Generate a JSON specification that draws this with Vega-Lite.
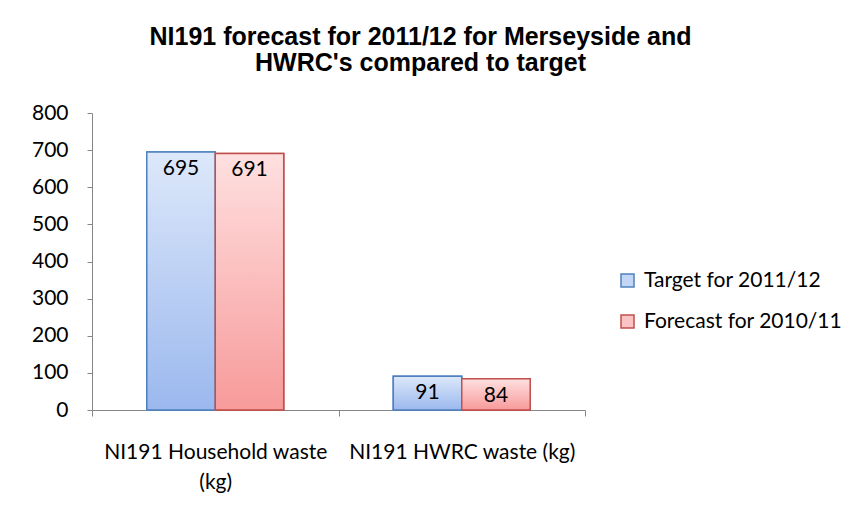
{
  "$schema": "https://vega.github.io/schema/vega-lite/v6.json",
  "width": 493,
  "height": 297,
  "autosize": {"type": "none"},
  "padding": {"left": 92, "top": 113, "right": 265, "bottom": 102},
  "background": "white",
  "title": {
    "text": ["NI191 forecast for 2011/12 for Merseyside and", "HWRC's compared to target"],
    "font": "Liberation Sans",
    "fontSize": 25,
    "fontWeight": "bold",
    "color": "#000000",
    "anchor": "middle",
    "dx": 82,
    "offset": 26,
    "lineHeight": 26
  },
  "config": {
    "view": {"stroke": null},
    "axis": {"labelFont": "Lato", "labelFontSize": 21, "labelColor": "#000000", "domainColor": "#868686", "tickColor": "#868686", "grid": false, "title": null},
    "legend": {"labelFont": "Lato", "labelFontSize": 21, "labelColor": "#000000"}
  },
  "data": {
    "values": [
      {"category": "NI191 Household waste (kg)", "series": "Target for 2011/12", "value": 695},
      {"category": "NI191 Household waste (kg)", "series": "Forecast for 2010/11", "value": 691},
      {"category": "NI191 HWRC waste (kg)", "series": "Target for 2011/12", "value": 91},
      {"category": "NI191 HWRC waste (kg)", "series": "Forecast for 2010/11", "value": 84}
    ]
  },
  "encoding": {
    "x": {
      "field": "category", "type": "nominal", "sort": null,
      "scale": {"paddingInner": 0, "paddingOuter": 0},
      "axis": {"labelAngle": 0, "tickBand": "extent", "tickSize": 6, "labelPadding": 25, "labelLimit": 400,
        "labelExpr": "datum.label == 'NI191 Household waste (kg)' ? ['NI191 Household waste', '(kg)'] : datum.label",
        "labelLineHeight": 30}
    },
    "xOffset": {"field": "series", "type": "nominal", "sort": ["Target for 2011/12", "Forecast for 2010/11"],
      "scale": {"domain": ["Target for 2011/12", "Forecast for 2010/11"], "paddingInner": 0, "paddingOuter": 0.8}},
    "y": {
      "field": "value", "type": "quantitative",
      "scale": {"domain": [0, 800]},
      "axis": {"values": [0, 100, 200, 300, 400, 500, 600, 700, 800], "tickSize": 5, "labelPadding": 19}
    }
  },
  "layer": [
    {
      "mark": {"type": "bar", "strokeWidth": 1.5},
      "encoding": {
        "fill": {
          "field": "series", "type": "nominal",
          "scale": {"domain": ["Target for 2011/12", "Forecast for 2010/11"], "range": ["#C3D6F6", "#FBC3C3"]},
          "legend": {"title": null, "orient": "none", "legendX": 525, "legendY": 157, "symbolType": "square", "symbolSize": 169, "rowPadding": 19, "labelOffset": 6, "labelLimit": 300, "symbolStrokeWidth": 1.5, "symbolOpacity": 1}
        },
        "stroke": {
          "field": "series", "type": "nominal",
          "scale": {"domain": ["Target for 2011/12", "Forecast for 2010/11"], "range": ["#4F81BD", "#C0504D"]},
          "legend": null
        }
      }
    },
    {
      "transform": [{"filter": "datum.series == 'Target for 2011/12'"}],
      "mark": {"type": "bar", "strokeWidth": 1.5, "stroke": "#4F81BD",
        "fill": {"gradient": "linear", "x1": 0, "y1": 0, "x2": 0, "y2": 1, "stops": [{"offset": 0, "color": "#DDE8FA"}, {"offset": 1, "color": "#9BB8EE"}]}}
    },
    {
      "transform": [{"filter": "datum.series == 'Forecast for 2010/11'"}],
      "mark": {"type": "bar", "strokeWidth": 1.5, "stroke": "#C0504D",
        "fill": {"gradient": "linear", "x1": 0, "y1": 0, "x2": 0, "y2": 1, "stops": [{"offset": 0, "color": "#FFE0E0"}, {"offset": 1, "color": "#F79A9A"}]}}
    },
    {
      "mark": {"type": "text", "font": "Lato", "fontSize": 21, "color": "#000000", "baseline": "middle", "dy": 17},
      "encoding": {"text": {"field": "value", "type": "quantitative"}}
    }
  ]
}
